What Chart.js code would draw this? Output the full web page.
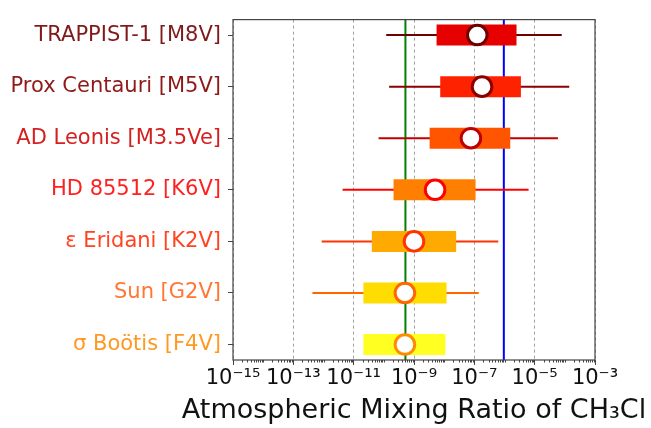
<!DOCTYPE html>
<html>
<head>
<meta charset="utf-8">
<script src="https://cdn.jsdelivr.net/npm/chart.js@4"></script>
<style>
  html, body { margin: 0; padding: 0; background: #fff; }
  #wrap { width: 651px; height: 428px; }
</style>
</head>
<body>
<div id="wrap"><canvas id="chart"></canvas></div>
<script>
// Estrelas (de cima para baixo)
var categories = ["TRAPPIST-1 [M8V]", "Prox Centauri [M5V]", "AD Leonis [M3.5Ve]", "HD 85512 [K6V]",
                  "ε Eridani [K2V]", "Sun [G2V]", "σ Boötis [F4V]"];

// Razao de mistura do CH3Cl: bigodes, caixa e mediana
var whiskerLow  = [1.2e-10, 1.5e-10, 6.7e-11, 4.3e-12, 8.7e-13, 4.3e-13, null];
var whiskerHigh = [7.9e-5, 1.4e-4, 5.9e-5, 6.3e-6, 6.2e-7, 1.4e-7, null];
var boxLow      = [5.6e-9, 7.4e-9, 3.3e-9, 2.1e-10, 4.0e-11, 2.1e-11, 2.1e-11];
var boxHigh     = [2.5e-6, 3.5e-6, 1.55e-6, 1.1e-7, 2.5e-8, 1.2e-8, 1.1e-8];
var median      = [1.25e-7, 1.8e-7, 7.7e-8, 5.0e-9, 1.0e-9, 5.0e-10, 5.0e-10];

// Linhas de referencia
var greenLine = 5.2e-10;
var blueLine = 9.5e-7;

var xTickValues = [1e-15, 1e-13, 1e-11, 1e-9, 1e-7, 1e-5, 1e-3];
var xTickLabels = ["10⁻¹⁵", "10⁻¹³", "10⁻¹¹", "10⁻⁹", "10⁻⁷", "10⁻⁵", "10⁻³"];
var xTitle = "Atmospheric Mixing Ratio of CH₃Cl";

// Cores
var boxColors = ["#e60000", "#ff2200", "#ff5500", "#ff8000", "#ffaa00", "#ffdd00", "#ffff22"];
var edgeColors = ["#6e0000", "#8b0000", "#c00000", "#ff0000", "#ff3300", "#ff6600", "#ff8c00"];
var labelColors = ["#7f1a1a", "#8f1a1a", "#d42020", "#ff2020", "#ff4422", "#ff7733", "#ff9922"];

var datasets = [];

// Pontos da mediana (por cima de tudo)
datasets.push({
  type: "scatter",
  data: median.map(function(v, i) { return { x: v, y: i }; }),
  pointRadius: 9.8,
  pointBorderWidth: 3,
  pointBackgroundColor: "#ffffff",
  pointBorderColor: edgeColors,
  order: 0
});

categories.forEach(function(c, i) {
  // Caixa
  datasets.push({
    type: "line",
    data: [{ x: boxLow[i], y: i }, { x: boxHigh[i], y: i }],
    borderColor: boxColors[i],
    borderWidth: 21,
    borderCapStyle: "butt",
    pointRadius: 0,
    order: 1
  });
  // Bigodes
  if (whiskerLow[i] !== null) {
    datasets.push({
      type: "line",
      data: [{ x: whiskerLow[i], y: i }, { x: whiskerHigh[i], y: i }],
      borderColor: edgeColors[i],
      borderWidth: 2,
      pointRadius: 0,
      order: 2
    });
  }
});

// Linhas verticais
[[greenLine, "#008000"], [blueLine, "#0000ff"]].forEach(function(l) {
  datasets.push({
    type: "line",
    data: [{ x: l[0], y: -0.3 }, { x: l[0], y: 6.3 }],
    borderColor: l[1],
    borderWidth: 2,
    pointRadius: 0,
    order: 3
  });
});

// Moldura, tracinhos menores e titulo do eixo x
// (o titulo da escala do Chart.js fica espremido na largura do eixo)
var framePlugin = {
  id: "frame",
  beforeDatasetsDraw: function(chart) {
    var ctx = chart.ctx, a = chart.chartArea, xs = chart.scales.x;
    ctx.save();
    ctx.strokeStyle = "#444";
    ctx.lineWidth = 1;
    ctx.beginPath();
    for (var e = -15; e < -3; e++) {
      for (var k = 1; k < 10; k++) {
        if (k === 1 && (e % 2 !== 0)) continue;
        var px = Math.round(xs.getPixelForValue(k * Math.pow(10, e))) + 0.5;
        ctx.moveTo(px, a.bottom);
        ctx.lineTo(px, a.bottom + 2.5);
      }
    }
    ctx.stroke();
    ctx.restore();
  },
  afterDraw: function(chart) {
    var ctx = chart.ctx, a = chart.chartArea;
    ctx.save();
    ctx.strokeStyle = "#444";
    ctx.lineWidth = 1.2;
    ctx.strokeRect(a.left, a.top, a.right - a.left, a.bottom - a.top);
    ctx.fillStyle = "#111";
    ctx.font = "27px 'DejaVu Sans'";
    ctx.textAlign = "center";
    ctx.textBaseline = "alphabetic";
    ctx.fillText(xTitle, (a.left + a.right) / 2, 418);
    ctx.restore();
  }
};

var ctx = document.getElementById("chart").getContext("2d");
var chart = new Chart(ctx, {
  data: { datasets: datasets },
  options: {
    responsive: true,
    maintainAspectRatio: false,
    animation: false,
    layout: { padding: { top: 6, right: 56, left: 0, bottom: 0 } },
    plugins: {
      legend: { display: false },
      tooltip: { enabled: false }
    },
    scales: {
      x: {
        type: "logarithmic",
        min: 1e-15,
        max: 1e-3,
        afterBuildTicks: function(scale) {
          scale.ticks = xTickValues.map(function(v) { return { value: v }; });
        },
        afterFit: function(scale) { scale.height = 68; },
        ticks: {
          autoSkip: false,
          maxRotation: 0,
          padding: 1,
          color: "#111",
          font: { family: "DejaVu Sans", size: 21 },
          callback: function(v, i) { return xTickLabels[i]; }
        },
        grid: {
          color: "#a0a0a0",
          lineWidth: 1,
          tickLength: 5,
          tickColor: "#444"
        },
        border: { display: false, dash: [3, 3] }
      },
      y: {
        type: "linear",
        reverse: true,
        min: -0.3,
        max: 6.3,
        afterBuildTicks: function(scale) {
          scale.ticks = categories.map(function(c, i) { return { value: i }; });
        },
        afterFit: function(scale) { scale.width = 233; },
        ticks: {
          padding: 7,
          font: { family: "DejaVu Sans", size: 21 },
          color: function(c) { return labelColors[c.index]; },
          callback: function(v) { return categories[v]; }
        },
        grid: {
          drawOnChartArea: false,
          tickLength: 5,
          tickColor: "#444"
        },
        border: { display: false }
      }
    }
  },
  plugins: [framePlugin]
});
</script>
</body>
</html>
